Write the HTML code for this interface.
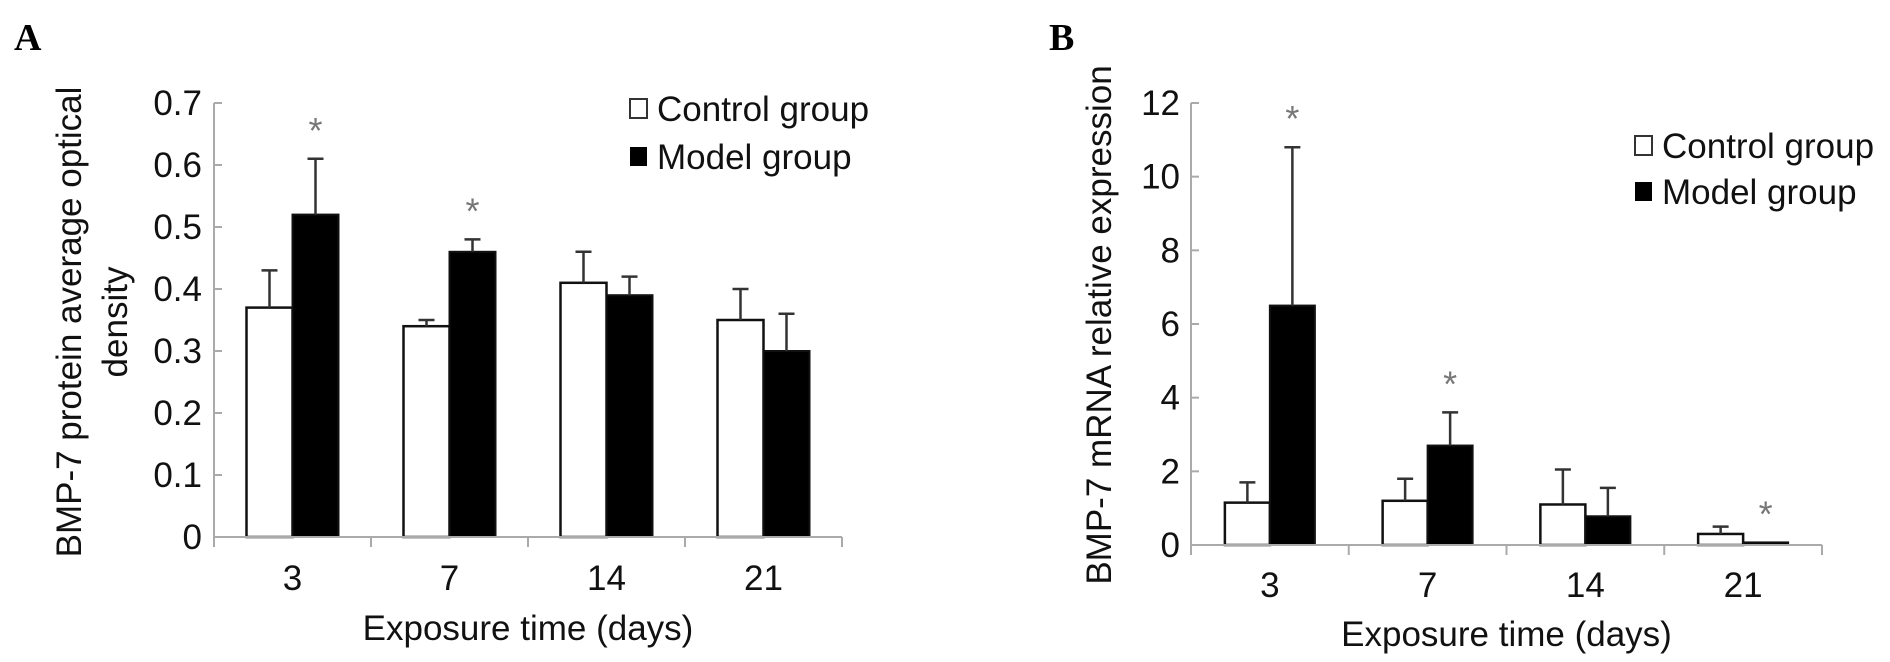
<!DOCTYPE html>
<html><head><meta charset="utf-8"><style>
html,body{margin:0;padding:0;background:#fff;}
svg{display:block;font-family:"Liberation Sans",Arial,sans-serif;}
</style></head><body>
<svg id="fig" width="1890" height="662" viewBox="0 0 1890 662">
<text x="14" y="50" font-family="Liberation Serif,serif" font-weight="bold" font-size="38">A</text>
<text x="1049" y="50" font-family="Liberation Serif,serif" font-weight="bold" font-size="38">B</text>
<g id="chartA"></g>
<g id="chartB"></g>
</svg>
<script>
const categories = ["3","7","14","21"];
const aControl = [0.37,0.34,0.41,0.35];
const aControlErr = [0.06,0.01,0.05,0.05];
const aModel = [0.52,0.46,0.39,0.30];
const aModelErr = [0.09,0.02,0.03,0.06];
const aSig = [true,true,false,false];
const aTicks = ["0","0.1","0.2","0.3","0.4","0.5","0.6","0.7"];
const bControl = [1.15,1.2,1.1,0.3];
const bControlErr = [0.55,0.6,0.95,0.2];
const bModel = [6.5,2.7,0.78,0.07];
const bModelErr = [4.3,0.9,0.77,0];
const bSig = [true,true,false,true];
const bTicks = ["0","2","4","6","8","10","12"];

const NS="http://www.w3.org/2000/svg";
function mk(parent,tag,attrs,text){const e=document.createElementNS(NS,tag);for(const k in attrs)e.setAttribute(k,attrs[k]);if(text!==undefined)e.textContent=text;parent.appendChild(e);return e;}
const FS=35;

function draw(g,cfg){
  const {x0,x1,y0,yTop,vmax,ticks,ctrl,ctrlErr,mod,modErr,sig,bw}=cfg;
  const ys=v=>y0-(v/vmax)*(y0-yTop);
  const step=(x1-x0)/categories.length;
  const cx=i=>x0+step*(i+0.5);
  let e=mk(g,'line',{x1:x0,y1:yTop,x2:x0,y2:y0,stroke:'#aaa','stroke-width':2});
  
  
  ticks.forEach(t=>{
    const y=ys(parseFloat(t));
    let l=mk(g,'line',{x1:x0,y1:y,x2:x0+8,y2:y,stroke:'#aaa','stroke-width':2});
    
    
    let tx=mk(g,'text',{x:cfg.labelRight,y:y+12,'text-anchor':'end','font-size':FS,fill:'#111'},t);
    
    
  });
  categories.forEach((c,i)=>{
    const c0=cx(i);
    let r=mk(g,'rect',{x:c0-bw,y:ys(ctrl[i]),width:bw,height:y0-ys(ctrl[i]),fill:'#fff',stroke:'#111','stroke-width':2.5});
    
    
    const ec=ys(ctrl[i]+ctrlErr[i]);
    let el=mk(g,'path',{d:`M${c0-bw/2},${ys(ctrl[i])}V${ec}M${c0-bw/2-8},${ec}H${c0-bw/2+8}`,stroke:'#333','stroke-width':2.5,fill:'none'});
    
    
    r=mk(g,'rect',{x:c0,y:ys(mod[i]),width:bw,height:y0-ys(mod[i]),fill:'#000',stroke:'#111','stroke-width':2});
    
    
    if(modErr[i]>0){
      const em=ys(mod[i]+modErr[i]);
      el=mk(g,'path',{d:`M${c0+bw/2},${ys(mod[i])}V${em}M${c0+bw/2-8},${em}H${c0+bw/2+8}`,stroke:'#333','stroke-width':2.5,fill:'none'});
      
      
    }
    if(sig[i]){
      const top=ys(mod[i]+modErr[i]);
      let s=mk(g,'text',{x:c0+bw/2,y:top-cfg.starOff,'text-anchor':'middle','font-size':36,fill:'#777'},'*');
      
      
    }
    let xl=mk(g,'text',{x:c0,y:cfg.xLabelY,'text-anchor':'middle','font-size':FS,fill:'#111'},c);
    
    
  });
  e=mk(g,'line',{x1:x0,y1:y0,x2:x1,y2:y0,stroke:'#aaa','stroke-width':2});
  
  
  for(let i=0;i<=categories.length;i++){
    let l=mk(g,'line',{x1:x0+step*i,y1:y0,x2:x0+step*i,y2:y0+10,stroke:'#aaa','stroke-width':2});
    
    
  }
  let t=mk(g,'text',{x:(x0+x1)/2,y:cfg.xTitleY,'text-anchor':'middle','font-size':FS,fill:'#111'},'Exposure time (days)');
  
  
  const L=cfg.legend;
  let s1=mk(g,'rect',{x:L.x,y:L.y1-10,width:17,height:19,fill:'#fff',stroke:'#333','stroke-width':2});
  
  
  let t1=mk(g,'text',{x:L.x+27,y:L.y1+12,'font-size':FS,fill:'#111'},'Control group');
  
  
  let s2=mk(g,'rect',{x:L.x,y:L.y2-10,width:17,height:19,fill:'#000'});
  
  
  let t2=mk(g,'text',{x:L.x+27,y:L.y2+12,'font-size':FS,fill:'#111'},'Model group');
  
  
}

const gA=document.getElementById('chartA');
draw(gA,{x0:214,x1:842,y0:537,yTop:103,vmax:0.7,ticks:aTicks,ctrl:aControl,ctrlErr:aControlErr,mod:aModel,modErr:aModelErr,sig:aSig,bw:46,labelRight:202,starOff:16,xLabelY:590,xTitleY:640,legend:{x:630,y1:109,y2:157}});
const gB=document.getElementById('chartB');
draw(gB,{x0:1191,x1:1822,y0:545,yTop:103,vmax:12,ticks:bTicks,ctrl:bControl,ctrlErr:bControlErr,mod:bModel,modErr:bModelErr,sig:bSig,bw:45,labelRight:1180,starOff:16,xLabelY:597,xTitleY:646,legend:{x:1635,y1:146,y2:192}});

let yt=mk(gA,'text',{x:0,y:0,'text-anchor':'middle','font-size':FS,fill:'#111',transform:'translate(81,322) rotate(-90)'},'BMP-7 protein average optical');


yt=mk(gA,'text',{x:0,y:0,'text-anchor':'middle','font-size':FS,fill:'#111',transform:'translate(127,322) rotate(-90)'},'density');


yt=mk(gB,'text',{x:0,y:0,'text-anchor':'middle','font-size':FS,fill:'#111',transform:'translate(1111,325) rotate(-90)'},'BMP-7 mRNA relative expression');


</script>
</body></html>
